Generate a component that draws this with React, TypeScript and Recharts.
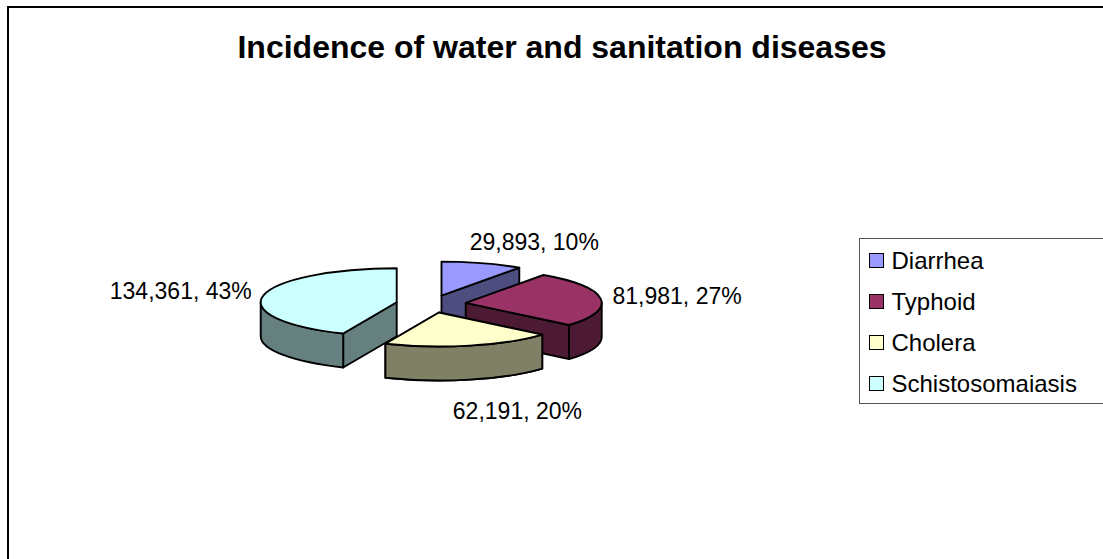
import React from 'react';
import { PieChart, Pie, Cell, Legend } from 'recharts';

// cases per disease, with the share printed next to each slice
const diseases = ['Diarrhea', 'Typhoid', 'Cholera', 'Schistosomaiasis'];
const cases = [29893, 81981, 62191, 134361];
const shares = [10, 27, 20, 43];

const topColors = ['#9999FF', '#993366', '#FFFFCC', '#CCFFFF'];
const sideColors = ['#4D4D80', '#4D1A33', '#808066', '#668080'];

const data = diseases.map((name, i) => ({ name, value: cases[i], share: shares[i] }));

const FONT = "'Liberation Sans', Arial, Helvetica, sans-serif";

// fake 3D: squash the disc vertically, give it a thickness and pull slices out
const TILT = 0.25;
const DEPTH = 34;
const EXPLODE = 35;
const RAD = Math.PI / 180;

const sliceOrigin = (cx: number, cy: number, mid: number) => [
  cx + EXPLODE * Math.cos(mid * RAD),
  cy - EXPLODE * TILT * Math.sin(mid * RAD),
];

const Slice3D = (props: any) => {
  const { cx, cy, outerRadius: r, startAngle, endAngle, fill, payload } = props;
  const s = Math.max(startAngle, endAngle);
  const e = Math.min(startAngle, endAngle);
  const mid = (s + e) / 2;
  const [ox, oy] = sliceOrigin(cx, cy, mid);
  const ry = r * TILT;
  const idx = diseases.indexOf(payload?.name ?? props.name);
  const side = sideColors[idx] ?? '#666';

  const p = (deg: number, drop = 0) => [ox + r * Math.cos(deg * RAD), oy - ry * Math.sin(deg * RAD) + drop];
  const f = (pt: number[]) => `${pt[0].toFixed(2)},${pt[1].toFixed(2)}`;
  const arc = (from: number, to: number, drop: number, cw: boolean) =>
    `A${r},${ry} 0 ${Math.abs(from - to) > 180 ? 1 : 0} ${cw ? 1 : 0} ${f(p(to, drop))}`;

  const line = { stroke: '#000', strokeWidth: 1.9, strokeLinejoin: 'round' as const };
  const faces: React.ReactNode[] = [];

  const radial = (a: number, key: string) => (
    <path key={key} d={`M${f([ox, oy])} L${f(p(a))} L${f(p(a, DEPTH))} L${f([ox, oy + DEPTH])} Z`} fill={side} {...line} />
  );
  if (Math.cos(s * RAD) < -1e-3) faces.push(radial(s, 'rs'));
  if (Math.cos(e * RAD) > 1e-3) faces.push(radial(e, 're'));

  // outer wall: only the part of the rim that faces the viewer
  for (let k = -1; k <= 1; k++) {
    const lo = Math.max(e, -180 + 360 * k);
    const hi = Math.min(s, 360 * k);
    if (hi - lo > 0.01) {
      faces.push(
        <path
          key={`w${k}`}
          d={`M${f(p(hi))} ${arc(hi, lo, 0, true)} L${f(p(lo, DEPTH))} ${arc(lo, hi, DEPTH, false)} Z`}
          fill={side}
          {...line}
        />
      );
    }
  }

  faces.push(<path key="top" d={`M${f([ox, oy])} L${f(p(s))} ${arc(s, e, 0, true)} Z`} fill={fill} {...line} />);
  return <g>{faces}</g>;
};

// second pass repaints the slices nearest the viewer so they sit on top
const FrontSlice = (props: any) => {
  const mid = (props.startAngle + props.endAngle) / 2;
  return Math.sin(mid * RAD) < -0.5 ? <Slice3D {...props} /> : <g />;
};

const renderLabel = (props: any) => {
  const { cx, cy, midAngle, outerRadius: r, value, payload } = props;
  const [ox, oy] = sliceOrigin(cx, cy, midAngle);
  const c = Math.cos(midAngle * RAD);
  const sn = Math.sin(midAngle * RAD);
  const x = ox + (r + 12) * c - 33 * Math.sign(c) * (1 - Math.abs(c)) ** 2;
  const y = oy - (r * TILT + 22) * sn + (sn < 0 ? DEPTH + 10 : 0);
  return (
    <text x={x} y={y} dy="0.35em" textAnchor={c >= 0 ? 'start' : 'end'} fontFamily={FONT} fontSize={23} fill="#000">
      {`${Number(value).toLocaleString('en-US')}, ${payload.share}%`}
    </text>
  );
};

// legend box is cut off by the right edge, so it has no right border
const LegendBox = () => (
  <div
    style={{
      position: 'relative',
      width: 250,
      height: 166,
      border: '1.5px solid #555',
      borderRight: 'none',
      boxSizing: 'border-box',
      background: '#fff',
    }}
  >
    {diseases.map((name, i) => (
      <div
        key={name}
        style={{
          position: 'absolute',
          left: 8.5,
          top: 7.5 + i * 41,
          height: 28,
          display: 'flex',
          alignItems: 'center',
          whiteSpace: 'nowrap',
        }}
      >
        <span
          style={{
            display: 'inline-block',
            width: 13,
            height: 13,
            background: topColors[i],
            border: '1.5px solid #000',
            marginRight: 8,
          }}
        />
        <span style={{ fontSize: 24, fontFamily: FONT, color: '#000' }}>{name}</span>
      </div>
    ))}
  </div>
);

export default function App() {
  return (
    <div style={{ position: 'fixed', left: 0, top: 0, width: 1103, height: 559, overflow: 'hidden', background: '#fff' }}>
      <div
        style={{
          position: 'absolute',
          left: 162,
          top: 29,
          width: 800,
          textAlign: 'center',
          fontFamily: FONT,
          fontWeight: 'bold',
          fontSize: 32,
          color: '#000',
          whiteSpace: 'nowrap',
        }}
      >
        Incidence of water and sanitation diseases
      </div>
      <div style={{ position: 'absolute', left: 0, top: 0 }}>
        <PieChart width={1103} height={559} margin={{ top: 0, right: 0, bottom: 0, left: 0 }}>
          <Pie
            data={data}
            dataKey="value"
            nameKey="name"
            cx={431}
            cy={304}
            outerRadius={136}
            startAngle={90}
            endAngle={-270}
            stroke="#000"
            shape={Slice3D}
            activeShape={Slice3D}
            inactiveShape={Slice3D}
            label={renderLabel}
            labelLine={false}
            isAnimationActive={false}
          >
            {data.map((d, i) => (
              <Cell key={d.name} fill={topColors[i]} />
            ))}
          </Pie>
          <Pie
            data={data}
            dataKey="value"
            nameKey="name"
            cx={431}
            cy={304}
            outerRadius={136}
            startAngle={90}
            endAngle={-270}
            stroke="#000"
            shape={FrontSlice}
            activeShape={FrontSlice}
            inactiveShape={FrontSlice}
            label={false}
            legendType="none"
            isAnimationActive={false}
          >
            {data.map((d, i) => (
              <Cell key={d.name} fill={topColors[i]} />
            ))}
          </Pie>
          <Legend
            layout="vertical"
            align="right"
            verticalAlign="middle"
            content={() => <LegendBox />}
            wrapperStyle={{ left: 859, top: 238, width: 250, height: 166 }}
          />
        </PieChart>
      </div>
      {/* chart area frame, running off the right and bottom edges */}
      <div
        style={{
          position: 'absolute',
          left: 7,
          top: 6,
          width: 1200,
          height: 700,
          borderLeft: '2.5px solid #000',
          borderTop: '2.5px solid #000',
          pointerEvents: 'none',
          zIndex: 5,
        }}
      />
    </div>
  );
}
